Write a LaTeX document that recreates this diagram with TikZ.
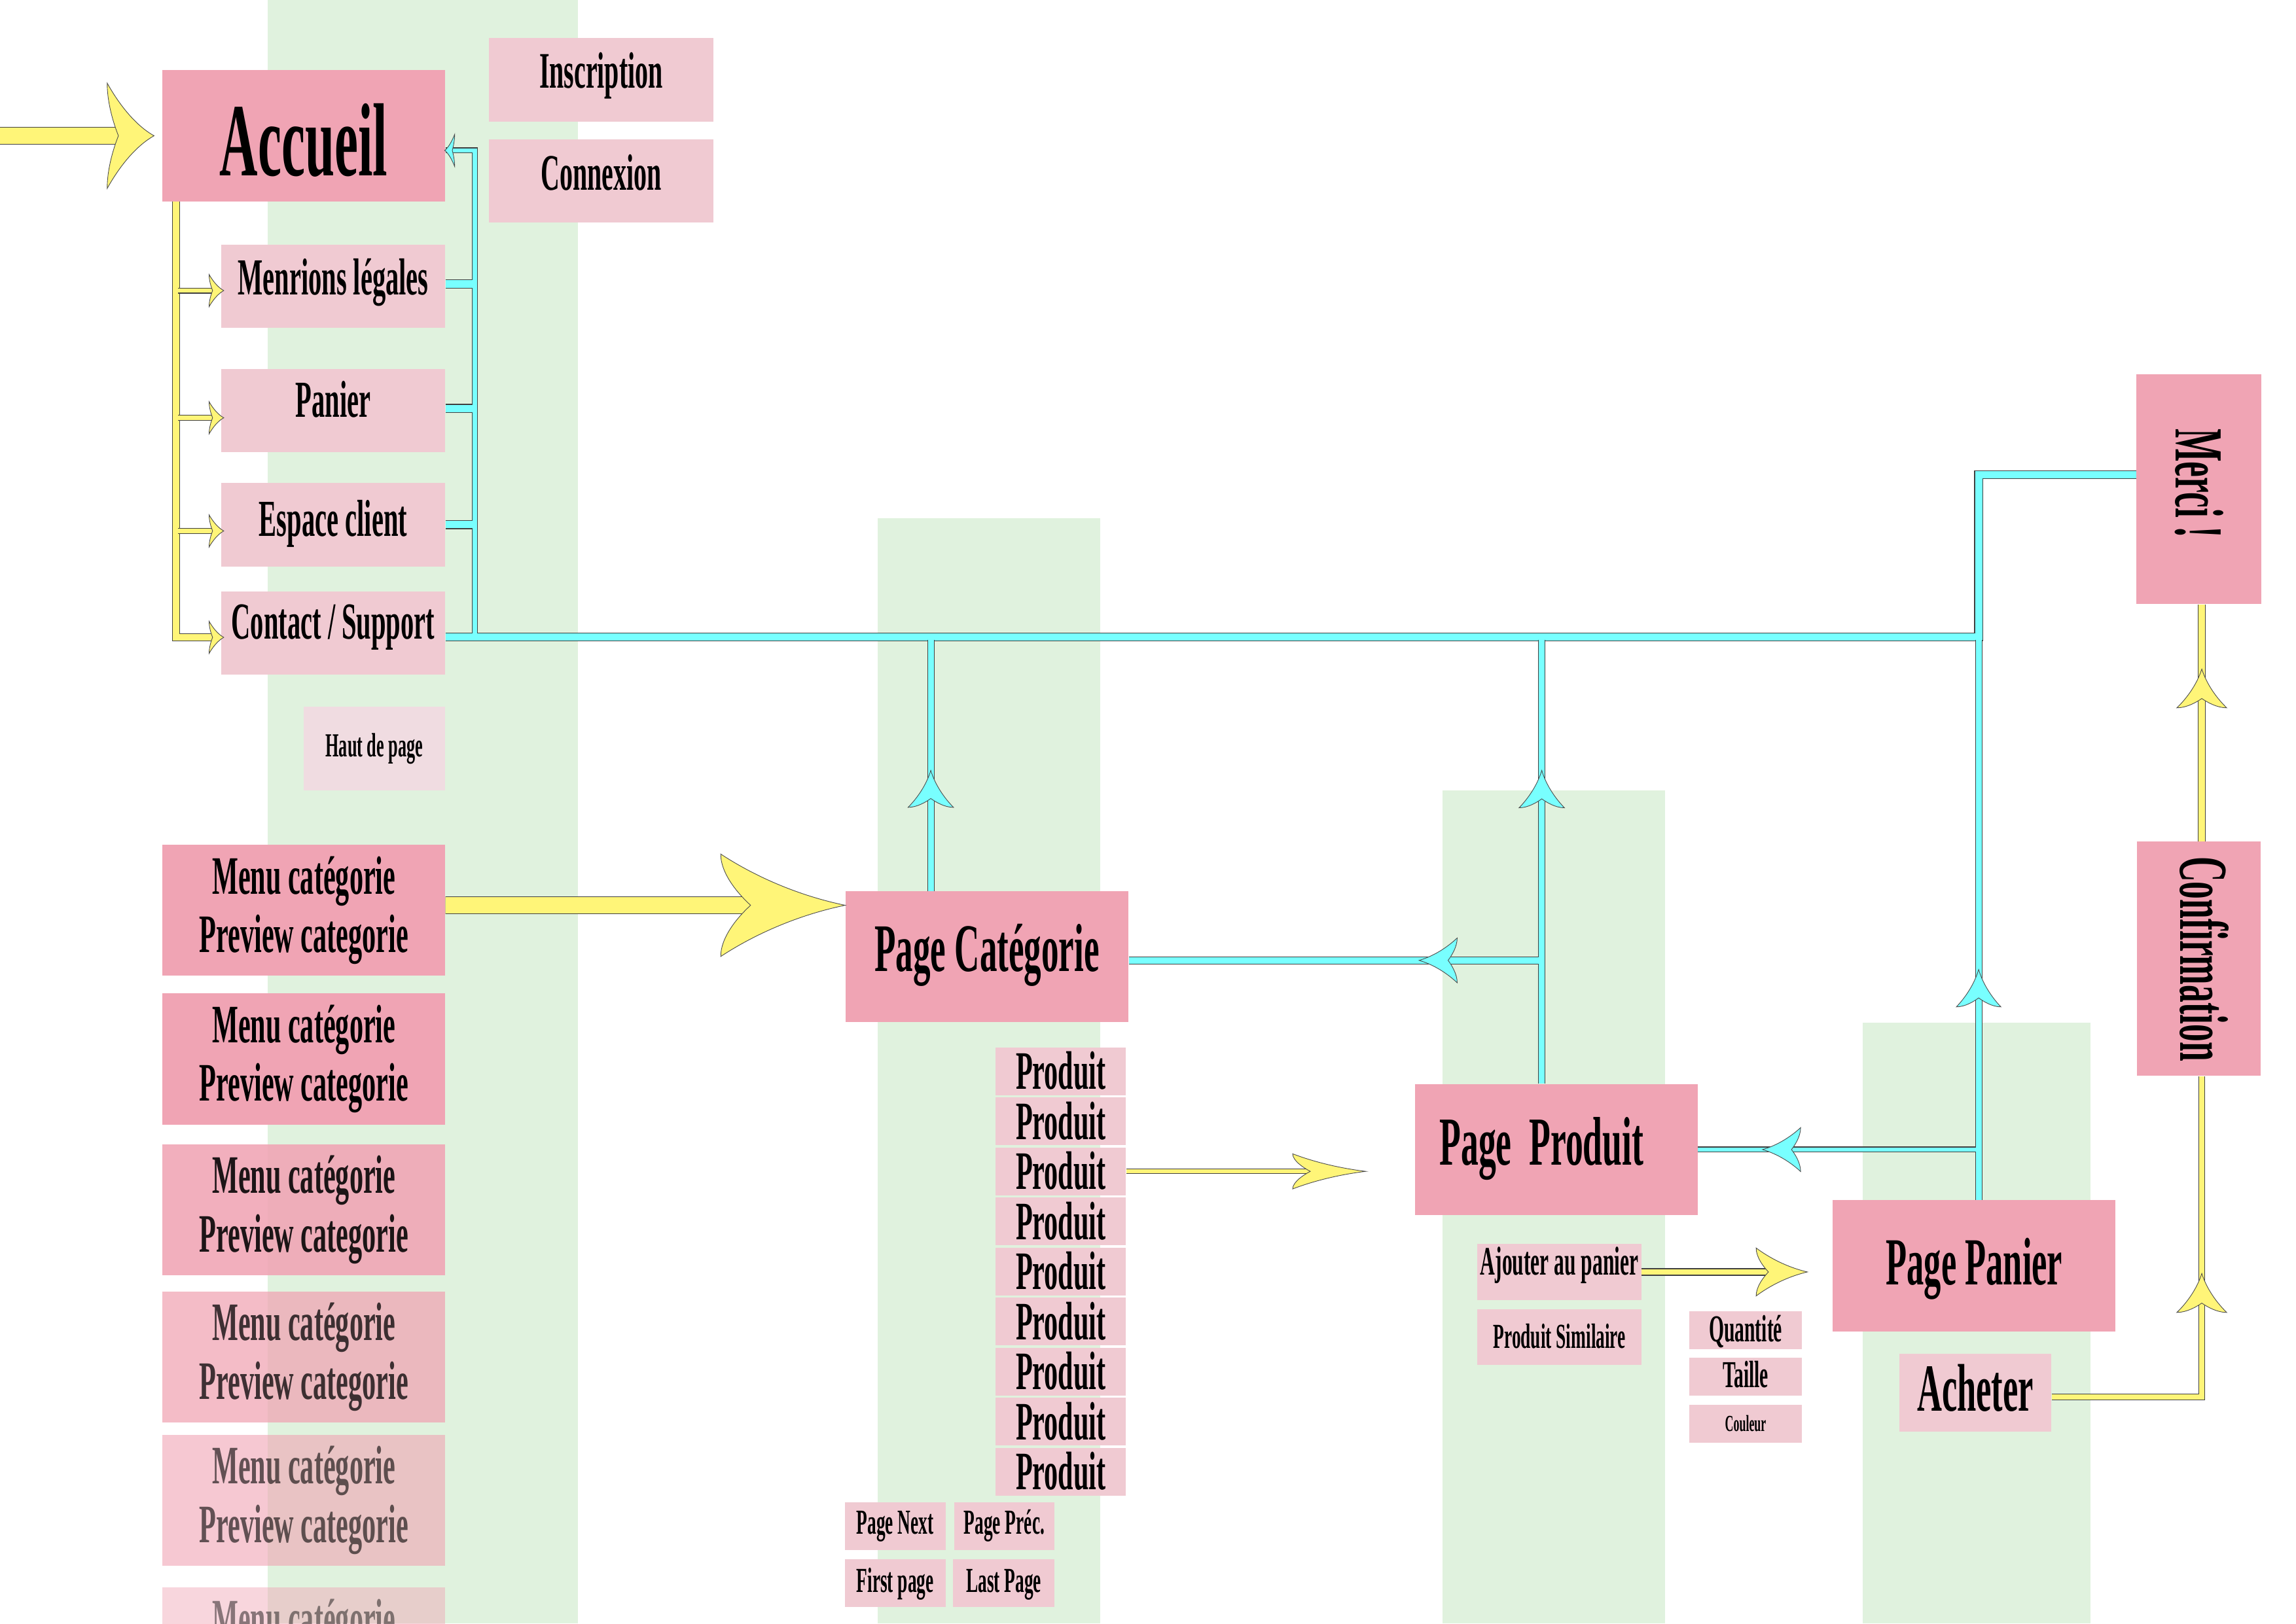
\documentclass[tikz,border=0pt]{standalone}
\usepackage{fontspec}
\newfontfamily\narrowfont{Liberation Serif}[FakeStretch=0.51]
\usetikzlibrary{calc}

\definecolor{rosefort}{RGB}{240,164,180}
\definecolor{roseclair}{RGB}{240,202,210}
\definecolor{rosepale}{RGB}{240,220,225}
\definecolor{vertfond}{RGB}{224,242,222}
\definecolor{jaune}{RGB}{255,245,120}
\definecolor{bleuciel}{RGB}{120,255,255}

\tikzset{
    page/.style={rectangle, inner sep=0pt, fill=rosefort, align=center},
    lien/.style={rectangle, inner sep=0pt, fill=roseclair, align=center},
    boite/.style 2 args={minimum width=#1, minimum height=#2},
    txt/.style 2 args={text height=#1, text depth=#2},
    fs/.style={font=\narrowfont\bfseries\fontsize{#1}{#1}\selectfont},
    jbar/.style={draw=black!75, line width=0.5pt, double=jaune, double distance=#1},
    cbar/.style={draw=black!75, line width=0.5pt, double=bleuciel, double distance=#1},
    pics/barb/.style 2 args={code={
        \filldraw[draw=black!70, line width=0.4pt]
            (0,0) .. controls (-0.4*#1,0.2*#2) and (-0.75*#1,0.6*#2) .. (-#1,#2)
            .. controls (-#1,0.6*#2) and (-0.85*#1,0.2*#2) .. (-0.76*#1,0)
            .. controls (-0.85*#1,-0.2*#2) and (-#1,-0.6*#2) .. (-#1,-#2)
            .. controls (-0.75*#1,-0.6*#2) and (-0.4*#1,-0.2*#2) .. cycle;
    }}
}

\begin{document}
\begin{tikzpicture}[x=1pt, y=-1pt]
    \useasboundingbox (0,0) rectangle (1568,1109);
    \clip (0,0) rectangle (1568,1109);

    % colonnes
    \fill[vertfond] (182.7,0) rectangle (394.8,1109);
    \fill[vertfond] (599.3,354) rectangle (751.3,1109);
    \fill[vertfond] (985,540) rectangle (1137,1109);
    \fill[vertfond] (1272,698.6) rectangle (1427.6,1109);

    % accueil et liens
    \node[page, boite={193.2pt}{89.5pt}, fs=71, txt={54.5pt}{0pt}] (accueil) at (207.4,92.75) {Accueil};
    \node[lien, boite={153pt}{57pt}, fs=35, txt={23.4pt}{12.6pt}] (inscription) at (410.5,54.5) {Inscription};
    \node[lien, boite={153pt}{57pt}, fs=35, txt={23.4pt}{10.4pt}] (connexion) at (410.5,123.5) {Connexion};
    \node[lien, boite={153pt}{57pt}, fs=35.5, txt={23.5pt}{11.4pt}] (menrions) at (227.5,195.5) {Menrions légales};
    \node[lien, boite={153pt}{57pt}, fs=35.5, txt={23.5pt}{14.2pt}] (panier) at (227.5,280.5) {Panier};
    \node[lien, boite={153pt}{57.2pt}, fs=35.5, txt={23.5pt}{7.6pt}] (espace) at (227.5,358.4) {Espace client};
    \node[lien, boite={153pt}{57pt}, fs=35.5, txt={23.5pt}{15.8pt}] (contact) at (227.5,432.5) {Contact / Support};
    \node[lien, fill=rosepale, boite={96.7pt}{57.1pt}, fs=23, txt={15.4pt}{4pt}] (haut) at (255.6,511.4) {Haut de page};

    % menus
    \foreach \y/\o [count=\i] in {621.9/1, 723.4/1, 826.4/0.88, 927.1/0.74, 1025/0.6}
        \node[page, boite={193pt}{89.5pt}, opacity=\o, font=\narrowfont\bfseries\fontsize{37}{40}\selectfont, txt={64.6pt}{7.2pt}] (menu\i) at (207.5,\y) {Menu catégorie\\Preview categorie};
    \node[page, boite={193pt}{89.5pt}, opacity=0.45, font=\narrowfont\bfseries\fontsize{37}{40}\selectfont, txt={64.6pt}{7.2pt}] (menu6) at (207.5,1129.2) {Menu catégorie\\\phantom{Preview categorie}};

    % categorie
    \node[page, boite={193.3pt}{89.5pt}, fs=46.5, txt={30.8pt}{10.6pt}] (pagecat) at (674.05,653.55) {Page Catégorie};
    \foreach \i in {1,...,9}
        \node[lien, boite={89pt}{32.5pt}, fs=37, txt={24.5pt}{0pt}] (prod\i) at (724.5,{731.8+34.19*(\i-1)}) {Produit};
    \node[lien, boite={68.7pt}{32.6pt}, fs=24, txt={15.9pt}{5.2pt}] (pnext) at (611.35,1042.6) {Page Next};
    \node[lien, boite={68.3pt}{32.6pt}, fs=24, txt={15.9pt}{5.2pt}] (pprec) at (685.85,1042.6) {Page Préc.};
    \node[lien, boite={68.7pt}{32.3pt}, fs=24, txt={15.9pt}{3.2pt}] (pfirst) at (611.35,1081.45) {First page};
    \node[lien, boite={69pt}{32.3pt}, fs=24, txt={15.9pt}{3.2pt}] (plast) at (685.5,1081.45) {Last Page};

    % produit
    \node[page, boite={193.2pt}{89.4pt}, fs=47, txt={31.3pt}{10.6pt}] (pageproduit) at (1062.8,785.3) {Page~~Produit\rule{20pt}{0pt}};
    \node[lien, boite={112pt}{38.2pt}, fs=27.6, txt={18.3pt}{14.2pt}] (ajouter) at (1065,868.9) {Ajouter au panier};
    \node[lien, boite={112pt}{38.2pt}, fs=24, txt={15.9pt}{1pt}] (similaire) at (1065,913.4) {Produit Similaire};
    \node[lien, boite={76.6pt}{26.1pt}, fs=26, txt={17.4pt}{2pt}] (quantite) at (1192.1,908.65) {Quantité};
    \node[lien, boite={76.6pt}{26pt}, fs=26, txt={17.4pt}{3.2pt}] (taille) at (1192.1,940.6) {Taille};
    \node[lien, boite={76.6pt}{26pt}, fs=15.7, txt={10.4pt}{0pt}] (couleur) at (1192.1,972.6) {Couleur};

    % panier
    \node[page, boite={193.1pt}{89.9pt}, fs=46, txt={30.4pt}{4.4pt}] (panierpage) at (1348.25,864.75) {Page Panier};
    \node[lien, boite={104pt}{53pt}, fs=46, txt={30.4pt}{5pt}] (acheter) at (1349,951.3) {Acheter};
    \node[page, rotate=-90, boite={160pt}{84.7pt}, fs=47, txt={31.2pt}{6pt}] (confirmation) at (1501.65,655) {Confirmation};
    \node[page, rotate=-90, boite={156.9pt}{85.3pt}, fs=47, txt={31.2pt}{0pt}] (merci) at (1501.65,334.15) {Merci !\rule{8pt}{0pt}};

    % fleches jaunes
    \coordinate (entree) at (0,92.75);
    \draw[jbar=11pt, shorten >=16pt] (entree) -- ([xshift=-5.4pt]accueil.west);
    \pic[fill=jaune] at ([xshift=-5.4pt]accueil.west) {barb={32}{36}};

    \coordinate (tronc) at ([xshift=9.5pt]accueil.south west);
    \foreach \n/\d in {menrions/-3, panier/-4.9, espace/-4.3, contact/-2.9}
        \coordinate (b\n) at ([xshift=2pt, yshift=\d pt]\n.west);
    \draw[jbar=4.3pt, shorten >=5pt] (tronc) |- (bcontact);
    \foreach \n in {menrions, panier, espace}
        \draw[jbar=3pt, shorten <=1.5pt, shorten >=5pt] (tronc |- b\n) -- (b\n);
    \foreach \n in {menrions, panier, espace, contact}
        \pic[fill=jaune] at (b\n) {barb={10}{11}};

    \coordinate (bcat) at ([yshift=35.15pt]pagecat.west);
    \draw[jbar=11pt, shorten >=40pt] ([yshift=3.5pt]menu1.east) -- (bcat);
    \pic[fill=jaune] at (bcat) {barb={85}{35}};

    \coordinate (pp) at ([xshift=-33.2pt]pageproduit.west);
    \draw[jbar=2.8pt, shorten >=25pt] (prod3.east) -- (pp |- prod3.east);
    \pic[fill=jaune] at (pp |- prod3.east) {barb={50}{12}};

    \coordinate (pa) at ([xshift=-17.2pt]panierpage.west);
    \draw[jbar=4pt, shorten >=17pt] (ajouter.east) -- (pa |- ajouter.east);
    \pic[fill=jaune] at (pa |- ajouter.east) {barb={35}{16.4}};

    % (confirmation et merci tournes : east = bas, west = haut, south = gauche)
    \coordinate (ach) at ([yshift=-3pt]acheter.east);
    \coordinate (confbas) at ([xshift=2pt]confirmation.east);
    \coordinate (achcoin) at (confbas |- ach);
    \draw[jbar=3.8pt] (ach) -- (achcoin) -- (confbas);
    \pic[rotate=90, fill=jaune] at ($(achcoin)!0.385!(confbas)$) {barb={26.6}{17}};

    \coordinate (confhaut) at ([xshift=2pt]confirmation.west);
    \coordinate (mercibas) at ([xshift=2pt]merci.east);
    \draw[jbar=4.5pt] (confhaut) -- (mercibas);
    \pic[rotate=90, fill=jaune] at ($(confhaut)!0.727!(mercibas)$) {barb={26.5}{17}};

    % retours cyan
    \coordinate (depart) at ([yshift=-2.5pt]contact.east);
    \coordinate (busL) at ([xshift=20pt]depart);
    \coordinate (panup) at ([xshift=3pt]panierpage.north);
    \coordinate (panbus) at (panup |- depart);
    \draw[cbar=5pt] (depart) -- (panbus) |- ([yshift=10pt]merci.south);

    \draw[cbar=3pt, shorten <=2.3pt] (busL) |- ([yshift=-10pt]accueil.east);
    \pic[rotate=180, fill=bleuciel] at ([yshift=-10pt, xshift=-0.5pt]accueil.east) {barb={6.8}{11}};
    \foreach \n/\d in {menrions/1.5, panier/1.5, espace/0} {
        \coordinate (s\n) at ([yshift=\d pt]\n.east);
        \draw[cbar=5pt, shorten >=1.5pt] (s\n) -- (busL |- s\n);
    }

    \coordinate (catup) at ([xshift=-38.4pt]pagecat.north);
    \coordinate (catbus) at (catup |- depart);
    \draw[cbar=4pt, shorten >=2.3pt] (catup) -- (catbus);
    \pic[rotate=90, fill=bleuciel] at ($(catup)!0.474!(catbus)$) {barb={25.2}{15.5}};

    \coordinate (produp) at ([xshift=-9.9pt]pageproduit.north);
    \coordinate (prodbus) at (produp |- depart);
    \draw[cbar=4pt, shorten >=2.3pt] (produp) -- (prodbus);
    \pic[rotate=90, fill=bleuciel] at ($(produp)!0.701!(prodbus)$) {barb={25.5}{15.5}};
    \coordinate (catdroite) at ([yshift=-2.5pt]pagecat.east);
    \coordinate (prodcoude) at (produp |- catdroite);
    \draw[cbar=4.6pt, shorten <=2pt] (prodcoude) -- (catdroite);
    \pic[rotate=180, fill=bleuciel] at ($(prodcoude)!0.297!(catdroite)$) {barb={26}{15.3}};

    \draw[cbar=4pt, shorten >=2.3pt] (panup) -- (panbus);
    \pic[rotate=90, fill=bleuciel] at ($(panup)!0.409!(panbus)$) {barb={25.5}{15.2}};
    \coordinate (pancoude) at (panup |- pageproduit.east);
    \draw[cbar=3pt, shorten <=2pt] (pancoude) -- (pageproduit.east);
    \pic[rotate=180, fill=bleuciel] at ($(pancoude)!0.770!(pageproduit.east)$) {barb={26}{15}};
\end{tikzpicture}
\end{document}
